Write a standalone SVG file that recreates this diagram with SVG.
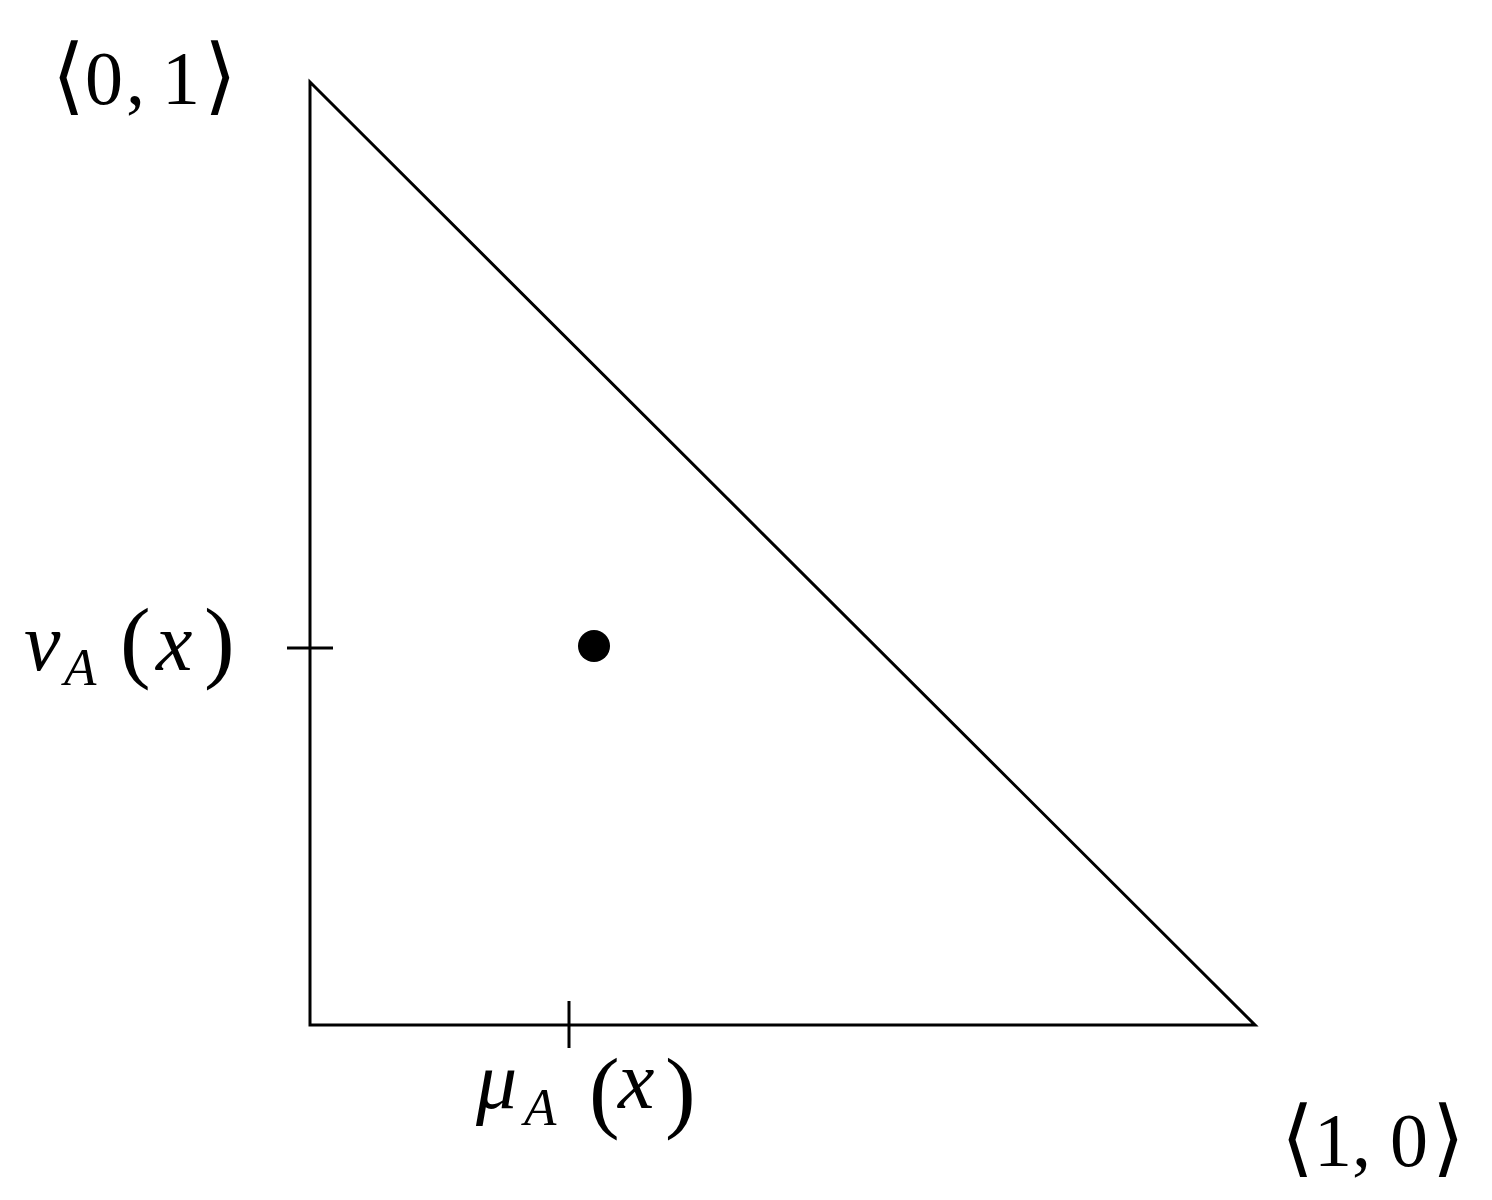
<svg xmlns="http://www.w3.org/2000/svg" width="1492" height="1200" viewBox="0 0 1492 1200">
<style>
.ln{stroke:#000;stroke-width:3;fill:none}
.t{font-family:"Liberation Serif","DejaVu Serif",serif;font-size:76px;fill:#000}
.i{font-style:italic;font-size:82px}
.s{font-size:53px;font-style:italic}
.p{font-size:92px}
.b{font-family:"DejaVu Serif",serif;font-size:84px}
</style>
<rect width="1492" height="1200" fill="#fff"/>
<g id="triangle">
<path class="ln" d="M310,82 L310,1025 L1255,1025 Z"/>
</g>
<g id="connectors">
<line class="ln" x1="287" y1="648" x2="333" y2="648"/>
<line class="ln" x1="569" y1="1001" x2="569" y2="1048"/>
</g>
<g id="point"><circle cx="594" cy="646" r="16" fill="#000"/></g>
<g id="label-01"><text class="t" y="104"><tspan class="b" x="52">⟨</tspan><tspan x="85">0</tspan><tspan x="126">,</tspan><tspan x="162">1</tspan><tspan class="b" x="204">⟩</tspan></text></g>
<g id="label-nu"><text class="t"><tspan class="i" x="24" y="670">ν</tspan><tspan class="s" x="64" y="685">A</tspan><tspan class="p" x="120" y="671">(</tspan><tspan class="i" x="156" y="670">x</tspan><tspan class="p" x="204" y="671">)</tspan></text></g>
<g id="label-mu"><text class="t"><tspan class="i" x="476" y="1108">μ</tspan><tspan class="s" x="524" y="1125">A</tspan><tspan class="p" x="589" y="1121">(</tspan><tspan class="i" x="618" y="1108">x</tspan><tspan class="p" x="665" y="1121">)</tspan></text></g>
<g id="label-10"><text class="t" y="1166"><tspan class="b" x="1281">⟨</tspan><tspan x="1314">1</tspan><tspan x="1352">,</tspan><tspan x="1390">0</tspan><tspan class="b" x="1432">⟩</tspan></text></g>
</svg>
